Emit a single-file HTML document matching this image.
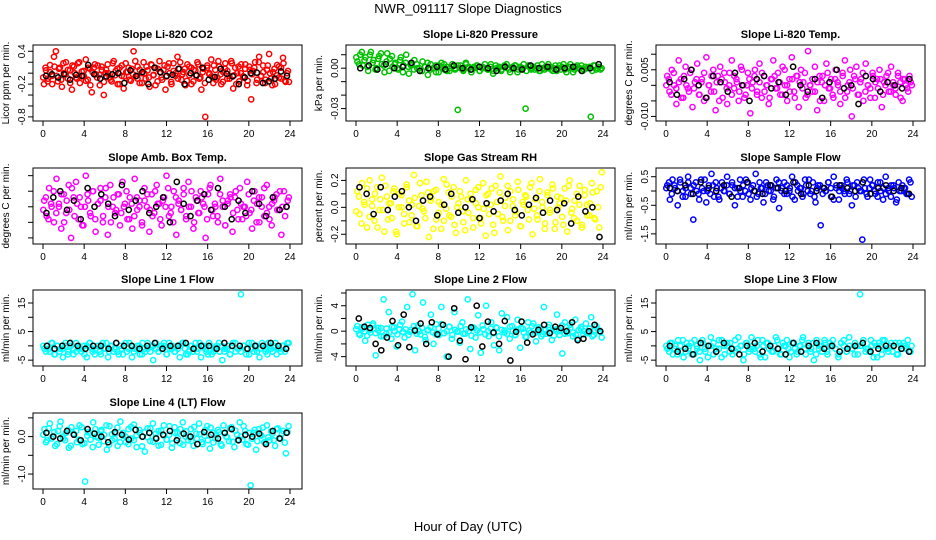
<!DOCTYPE html>
<html><head><meta charset="utf-8"><style>
body{margin:0;background:#fff;}
svg{display:block;font-family:"Liberation Sans",Arial,sans-serif;}
</style></head><body>
<svg id="chart" width="936" height="540" viewBox="0 0 936 540">
<text x="468" y="13" text-anchor="middle" font-size="13">NWR_091117  Slope Diagnostics</text>
<text x="468" y="531" text-anchor="middle" font-size="13">Hour of Day (UTC)</text>
</svg>
<script>
// ---- data (values in panel units * unit factor) ----
const co2Color=[-20,5,-10,15,-5,30,40,-15,10,-25,0,20,-10,5,-30,12,-8,18,-18,3,-5,25,-12,8,-35,10,-2,14,-22,6,-40,0,16,-8,-15,22,4,-20,10,-5,-28,18,2,-12,8,40,-6,12,-18,0,20,-10,5,-25,15,-3,10,-15,22,-8,6,-30,12,0,-20,18,-5,30,8,-12,2,-22,16,-4,10,-15,5,20,-10,-30,8,-80,14,-2,25,-18,6,-8,12,-20,2,18,-10,-5,22,-28,10,0,-15,16,-6,8,-22,12,-48,4,20,-12,30,-5,14,-18,6,35,-10,2,-20,15,-8,10,28,-14,0,-16];
const co2Color2=[-8,10,-15,2,-20,12,-5,8,-12,18,-2,6,-18,14,0,-10,20,-6,4,-14,10,-22,2,16,-8,-3,12,-16,6,0,-12,18,-4,8,-20,14,-6,2,10,-14,-2,22,-10,6,-18,0,12,-8,16,-4,-22,8,2,-12,14,-6,18,-16,4,0,-10,20,-2,8,-14,12,-20,6,-4,16,-8,2,-18,10,0,-6,14,-12,22,-2,-16,8,4,-10,18,-4,-20,12,0,-8,16,-14,6,-2,10,-18,20,-6,2,-12,14,0,-22,8,-4,12,-10,18,-16,4];
const co2Black=[-5,-2,-8,-2,-12,-3,-5,15,-2,-10,-6,-2,0,-18,5,-5,2,-20,10,2,-5,-3,8,-20,0,-4,10,-12,-7,8,-1,-6,-20,-8,0,1,-18,-15,-10,3,-5];
const presColor=[5,10,2,8,-2,12,6,0,9,3,-3,11,7,1,4,-1,8,2,10,-4,3,6,0,-2,5,1,-5,3,0,-3,2,4,-1,1,-2,3,0,-31,2,-1,4,0,-3,1,2,-2,0,3,-1,1,-4,2,0,-2,1,3,-1,0,2,-3,1,0,-30,2,-1,1,0,-2,3,-1,0,1,-2,2,0,-1,3,-3,1,0,-1,2,0,-2,1,0,-36,2,-1,1,0];
const presColor2=[8,3,12,6,1,10,4,-1,7,11,2,5,-2,9,3,0,6,-3,4,1,2,-1,3,0,-2,1,4,-1,0,2,-3,1,3,-2,0,1,-1,2,0,-2,3,1,-1,0,2,-2,1,0,-1,3,-2,0,1,-1,2,0,-3,1,2,-1,0,3,-2,1,0,-1,2,-2,0,1,3,-1,0,-2,2,1,-1,0,3,-3,1,0,2,-1,0,1,-2,2,0,-1];
const presBlack=[0,2,-1,3,0,1,4,-2,0,1,-1,2,0,-1,1,0,-2,1,0,-1,2,0,1,-1,0,1,-2,0,3];
const tempColor=[3,-2,5,0,-6,8,2,-4,6,-1,4,-7,1,7,-3,2,-5,9,0,-2,5,-8,3,6,-4,1,-6,4,8,-1,2,-5,6,0,-3,4,-9,1,5,-2,7,-4,3,0,-6,2,8,-1,4,-3,6,0,-5,2,9,-2,3,-7,5,1,-4,11,0,-2,6,-8,3,1,-5,7,-1,2,-4,5,0,-6,4,8,-2,1,-10,3,6,-3,2,-5,7,0,-1,4,-4,2,5,-7,1,3,-2,6,0,-3,4,1,-5,2,-1,3,0];
const tempColor2=[0,2,-3,4,-1,1,-4,3,0,-2,5,-1,2,-3,1,4,-4,0,3,-2,1,-5,2,4,-1,0,-3,3,1,-2,5,-4,0,2,-1,3,-3,1,4,-2,0,-4,2,3,-1,1,-3,5,0,-2,2,-4,3,1,-1,4,-3,0,2,-2,1,-5,3,0,4,-1,-3,2,1,-2,3,-4,0,5,-1,2,-3,1,4,-2,0,-4,3,1,-1,2,-3,0,4,-2,1,-1,3,-4,2,0,-2,1];
const tempBlack=[1,-3,2,5,0,-4,3,1,-2,4,0,-5,2,3,-1,1,-3,6,0,-2,2,-4,1,5,-1,0,-6,3,2,-2,1,0,-1,2];
const ambColor=[2,-3,6,0,-5,9,1,-7,4,-2,7,-10,3,8,-4,0,-6,10,2,-3,5,-8,1,6,-5,3,-9,7,0,-2,4,-6,8,1,-4,3,-7,9,-1,2,-5,6,0,-8,4,-2,7,1,-6,3,10,-3,0,5,-9,2,-1,6,-4,8,0,-7,3,-2,5,1,-10,4,7,-3,0,-5,9,2,-6,1,4,-8,3,-1,6,-4,0,8,-2,-7,5,1,-5,3,-3,7,0,-6,2,4,-1,-9,5,0,3];
const ambColor2=[-1,3,-4,1,5,-2,0,4,-5,2,-1,6,-3,1,3,-6,0,4,-2,5,-4,1,2,-3,6,0,-5,3,-1,4,-2,0,5,-4,1,-3,3,0,-6,2,4,-1,-3,5,1,-4,2,0,6,-2,-5,3,1,-1,4,-3,0,5,-5,2,-2,3,0,-4,6,-1,1,-3,4,0,-6,2,3,-2,5,-4,1,0,-3,4,-1,2,-5,3,0,6,-2,-4,1,3,-1,5,0,-3,2];
const ambBlack=[-2,3,5,-1,2,-4,6,0,4,1,-3,7,-1,2,5,-2,0,3,-5,8,1,-3,2,4,-1,6,0,-4,2,-2,5,1,-3,3,-1,0];
const rhColor=[12,-5,18,2,-15,20,6,-10,15,-2,22,-18,8,3,-8,14,-20,10,0,-12,17,5,-6,24,-14,1,9,-3,19,-22,7,12,-9,4,-16,21,-1,11,-7,15,-19,3,8,-11,20,-4,6,-15,13,0,-8,18,-21,10,2,-13,16,-5,23,-10,7,-17,12,1,-6,19,-14,4,9,-2,15,-20,6,-9,21,0,-12,11,-4,17,-16,8,3,-7,14,-18,20,-1,5,-10,16,-13,9,2,-6,18,-8,12,-15,26];
const rhColor2=[-3,8,-12,4,14,-7,1,10,-15,6,-2,16,-9,3,12,-18,0,9,-5,15,-11,2,7,-14,18,-1,-8,11,5,-16,13,-4,2,-10,17,-6,8,-13,0,12,-3,-17,6,10,-8,3,15,-12,-1,9,-5,14,-19,4,11,-7,1,16,-10,6,-3,13,-14,2,8,-9,18,-1,-6,12,4,-16,9,-2,14,-11,0,7,-13,5,16,-4,-8,10,2,-15,13,-6,3,11,-9,0,15];
const rhBlack=[15,10,-5,15,-2,8,12,0,-10,5,8,-6,2,10,-4,0,6,-8,3,-3,5,10,-2,-6,2,7,-4,5,-2,3,-12,8,-3,0,-22];
const sfColor=[2,-3,4,1,-5,3,0,-2,5,1,-10,3,-1,4,0,-4,2,6,-2,1,-3,3,0,5,-1,2,-5,1,4,-2,0,3,-3,2,6,-1,1,-4,3,0,2,-2,4,-6,1,3,-1,0,5,-3,2,1,-2,4,0,-1,3,-4,2,-12,1,0,3,-2,5,1,-3,2,0,4,-1,-5,2,3,0,-17,1,-2,4,2,-1,3,0,-3,5,1,-2,2,-4,3,0,1,-1,4,-2];
const sfColor2=[1,3,-1,2,0,4,-2,1,3,-1,2,0,-3,1,4,0,-1,2,3,-2,1,0,2,-1,3,1,-2,0,2,4,-1,1,0,-2,3,1,-1,2,0,-3,1,3,0,-1,2,1,-2,3,0,1,-1,2,4,0,-2,1,2,-1,0,3,1,-3,2,0,1,-1,3,0,2,-2,1,0,4,-1,1,2,0,-2,3,1,-1,0,2,1,-3,0,2,1,-1,3];
const sfBlack=[1,0,2,-1,3,1,0,2,-2,1,3,0,-1,2,1,0,3,-1,2,0,1,-2,2,1,0,3,-1,1,2,0,1,-1];
const l1Color=[-1,0,-2,1,-3,0,-1,-4,1,-2,0,-3,1,-1,-2,0,-4,1,-1,-3,0,-2,1,-1,-4,0,-2,1,-3,-1,0,-2,1,-4,-1,0,-3,1,-2,-1,0,-5,1,-2,-1,0,-3,1,-1,-2,0,-4,1,-1,-3,0,-2,1,-1,-4,0,-2,1,-3,-1,0,-2,-5,-1,0,-3,1,-2,-1,18,0,-3,1,-1,-2,0,-4,1,-1,-3,0,-2,1,-1,-2,0,-1,1];
const l1Color2=[0,-2,-1,1,-3,0,-2,-1,0,-3,1,-1,-2,0,-1,-3,0,1,-2,-1,0,-3,-1,1,-2,0,-1,-2,0,-3,1,-1,0,-2,-1,0,-3,-1,1,-2,0,-1,-2,0,1,-3,-1,0,-2,-1,0,1,-3,-2,0,-1,-2,1,0,-1,-3,0,-2,-1,1,0,-2,-1,-3,0,1,-1,-2,0,-1,-3,1,0,-2,-1,0,-2,1,-1,0,-3,-1,0,-2,1];
const l1Black=[0,-1,0,1,0,-1,0,0,-1,1,0,0,-1,0,1,-1,0,0,1,-1,0,0,-1,1,0,0,-1,0,0,1,0,-1];
const l2Color=[8,-6,4,-15,10,-2,12,-38,5,-8,50,-4,30,-12,6,-24,3,15,-10,38,-1,58,-30,9,-5,45,-14,2,26,-20,11,-6,38,-3,-40,7,-12,30,0,-18,14,-4,50,-28,6,-10,25,-34,3,40,-8,14,-22,5,-30,28,-2,22,-12,8,-6,18,-26,4,-9,14,-2,12,-16,6,-8,38,-4,10,-14,2,26,-6,-35,14,-3,10,-8,18,-12,4,-5,12,-2,22,-6,8,0,-10];
const l2Color2=[3,-4,6,0,-7,2,9,-3,1,5,-8,4,-2,7,0,-5,10,-1,3,-6,2,8,-4,0,5,-9,1,6,-2,-5,4,11,-3,0,7,-6,2,-1,8,-4,3,0,-7,5,1,-2,9,-5,0,4,-3,6,-8,2,1,-4,7,0,-6,3,5,-2,-9,1,8,-3,0,4,-5,2,6,-1,-7,3,0,9,-4,1,5,-2,-6,2,7,0,-3,4,-8,1,3,-1];
const l2Black=[20,7,5,-20,-30,-10,16,-22,26,-25,1,12,-20,14,-5,10,-40,36,-15,-44,6,40,-24,15,-2,-20,16,-46,-1,15,-18,-5,2,10,-3,7,5,0,14,-14,-12,0,10,0];
const l3Color=[-1,1,-3,0,2,-2,-4,1,0,-3,2,-1,-5,1,-2,0,3,-3,-1,2,-4,0,1,-2,-3,2,-1,0,-5,1,-2,3,-1,0,-3,2,-4,1,0,-2,3,-1,-3,0,2,-4,1,-1,-2,0,3,-3,1,-1,-5,2,0,-2,1,-3,0,2,-1,-4,1,0,-2,3,-1,-3,0,18,1,-2,-1,2,-4,0,1,-3,2,-1,0,-2,1,-3,0,1,-1,-2,0];
const l3Color2=[0,-2,1,-1,-3,0,2,-2,-1,1,-3,0,-2,2,-1,-4,0,1,-2,-1,2,-3,0,1,-1,-2,3,0,-3,1,-1,0,-2,2,-4,0,1,-1,-2,0,2,-3,1,0,-1,-2,1,-3,0,2,-1,0,-2,1,-3,-1,0,2,-2,1,0,-1,-3,1,2,-2,0,-1,1,-3,0,2,-1,-2,0,1,-4,0,2,-1,-2,1,0,-3,1,-1,0,2,-2];
const l3Black=[0,-2,-1,-3,1,0,-2,1,-1,-3,0,1,-2,0,-1,-3,1,-2,0,1,-1,0,-2,-1,0,1,-2,-1,0,0,-1,-2];
const l4Color=[20,-10,35,0,-25,15,40,-5,10,-30,25,5,-15,30,-20,-120,12,-8,38,0,-22,18,5,-35,28,-10,8,-25,40,2,-15,20,-5,32,-28,10,0,-40,22,-12,35,-3,15,-22,30,-8,5,-30,25,12,-18,38,0,-10,20,-25,8,35,-15,2,28,-32,10,-5,18,-20,30,0,-12,25,-28,5,38,-8,15,-22,-130,10,-35,20,3,-15,30,-10,8,-25,22,-5,15,-45,28];
const l4Color2=[5,-15,22,-5,12,-20,28,0,-10,18,-25,8,15,-8,25,-18,2,10,-28,20,-3,14,-12,30,-22,6,-6,24,-15,10,0,-20,26,-10,4,18,-26,12,-2,22,-14,8,-24,16,2,-8,28,-18,10,-4,20,-22,14,0,-12,26,-6,6,-20,18,-10,24,-16,4,12,-24,8,-2,22,-14,16,-8,0,28,-20,10,-6,18,-12,4,24,-18,-2,14,-10,20,-4,8,-16,12];
const l4Black=[10,0,-5,15,5,-10,20,8,0,-15,12,5,-8,18,0,10,-5,5,15,-10,8,0,-20,12,5,-5,10,20,-10,5,0,8,-20,15,-5,10];

// ---- panel layout & axes (not data) ----
const cols=[33,346,656], rows=[45,168,290,413], PW=269, PH=76;
const panels=[
 {name:'co2',title:'Slope Li-820 CO2',ylab:'Licor ppm per min.',col:'#ff0000',unit:0.01,ymin:-0.82,ymax:0.46,ticks:[0.4,0.2,0,-0.2,-0.4,-0.6,-0.8],labs:['0.4','','','-0.2','','','-0.8'],c:co2Color,c2:co2Color2,b:co2Black},
 {name:'pressure',title:'Slope Li-820 Pressure',ylab:'kPa per min.',col:'#00c000',unit:0.001,ymin:-0.037,ymax:0.015,ticks:[0.01,0,-0.01,-0.02,-0.03],labs:['','0.00','','','-0.03'],c:presColor,c2:presColor2,b:presBlack},
 {name:'li820-temp',title:'Slope Li-820 Temp.',ylab:'degrees C per min.',col:'#ff00ff',unit:0.001,ymin:-0.0105,ymax:0.012,ticks:[0.01,0.005,0,-0.005,-0.01],labs:['','0.005','','','-0.010'],c:tempColor,c2:tempColor2,b:tempBlack},
 {name:'amb-temp',title:'Slope Amb. Box Temp.',ylab:'degrees C per min.',col:'#ff00ff',unit:0.001,ymin:-0.011,ymax:0.0115,ticks:[0.01,0.005,0,-0.005,-0.01],labs:['','','','',''],c:ambColor,c2:ambColor2,b:ambBlack},
 {name:'rh',title:'Slope Gas Stream RH',ylab:'percent per min.',col:'#ffff00',unit:0.01,ymin:-0.25,ymax:0.27,ticks:[0.2,0.1,0,-0.1,-0.2],labs:['0.2','','0.0','','-0.2'],c:rhColor,c2:rhColor2,b:rhBlack},
 {name:'sample-flow',title:'Slope Sample Flow',ylab:'ml/min per min.',col:'#0000ff',unit:0.1,ymin:-1.75,ymax:0.7,ticks:[0.5,0,-0.5,-1,-1.5],labs:['0.5','','-0.5','','-1.5'],c:sfColor,c2:sfColor2,b:sfBlack},
 {name:'line1',title:'Slope Line 1 Flow',ylab:'ml/min per min.',col:'#00ffff',unit:1,ymin:-6,ymax:18.5,ticks:[15,10,5,0,-5],labs:['15','','5','','-5'],c:l1Color,c2:l1Color2,b:l1Black},
 {name:'line2',title:'Slope Line 2 Flow',ylab:'ml/min per min.',col:'#00ffff',unit:0.1,ymin:-5,ymax:6,ticks:[6,4,2,0,-2,-4],labs:['','4','','0','','-4'],c:l2Color,c2:l2Color2,b:l2Black},
 {name:'line3',title:'Slope Line 3 Flow',ylab:'ml/min per min.',col:'#00ffff',unit:1,ymin:-6,ymax:18.5,ticks:[15,10,5,0,-5],labs:['15','','5','','-5'],c:l3Color,c2:l3Color2,b:l3Black},
 {name:'line4',title:'Slope Line 4 (LT) Flow',ylab:'ml/min per min.',col:'#00ffff',unit:0.01,ymin:-1.32,ymax:0.55,ticks:[0.5,0,-0.5,-1],labs:['','0.0','','-1.0'],c:l4Color,c2:l4Color2,b:l4Black}
];
const xTicks=[0,4,8,12,16,20,24];
const NS='http://www.w3.org/2000/svg';
const svg=document.getElementById('chart');
function mk(tag,attrs,parent){const e=document.createElementNS(NS,tag);for(const k in attrs)e.setAttribute(k,attrs[k]);(parent||svg).appendChild(e);return e;}
panels.forEach((p,i)=>{
 const L=cols[i%3],T=rows[Math.floor(i/3)];
 const g=mk('g',{});
 
 
 const xs=h=>L+10+h/24*(PW-22);
 const ys=v=>T+3+(p.ymax-v)/(p.ymax-p.ymin)*(PH-6);
 const t=mk('text',{x:L+PW/2,y:T-7,'text-anchor':'middle','font-size':11,'font-weight':'bold'},g);t.textContent=p.title;
 
 
 const pts=mk('g',{fill:'none','stroke-width':1.5},g);
 
 
 const draw=(arr,color,off)=>arr.forEach((v,k)=>{
  const h=(k+off)*24/arr.length;
  const c=mk('circle',{cx:xs(h).toFixed(1),cy:ys(v*p.unit).toFixed(1),r:2.6,stroke:color},pts);
  
  
 });
 draw(p.c,p.col,0.5);draw(p.c2,p.col,0.1);draw(p.b,'#000',0.5);
 const box=mk('rect',{x:L,y:T,width:PW,height:PH,fill:'none',stroke:'#000','stroke-width':1},g);
 
 
 xTicks.forEach(h=>{
  mk('line',{x1:xs(h),x2:xs(h),y1:T+PH,y2:T+PH+5,stroke:'#000'},g);
  const tl=mk('text',{x:xs(h),y:T+PH+16,'text-anchor':'middle','font-size':10},g);tl.textContent=h;
  
  
 });
 p.ticks.forEach((v,k)=>{
  const y=ys(v); if(y<T-1||y>T+PH+1)return;
  mk('line',{x1:L-5,x2:L,y1:y,y2:y,stroke:'#000'},g);
  if(p.labs[k]){const tl=mk('text',{x:L-8,y:y,'text-anchor':'middle','font-size':10,transform:`rotate(-90 ${L-8} ${y})`},g);tl.textContent=p.labs[k];
   
   }
 });
 const yl=mk('text',{x:L-24,y:T+PH/2,'text-anchor':'middle','font-size':10,transform:`rotate(-90 ${L-24} ${T+PH/2})`},g);yl.textContent=p.ylab;
 
 
});
</script>
</body></html>
